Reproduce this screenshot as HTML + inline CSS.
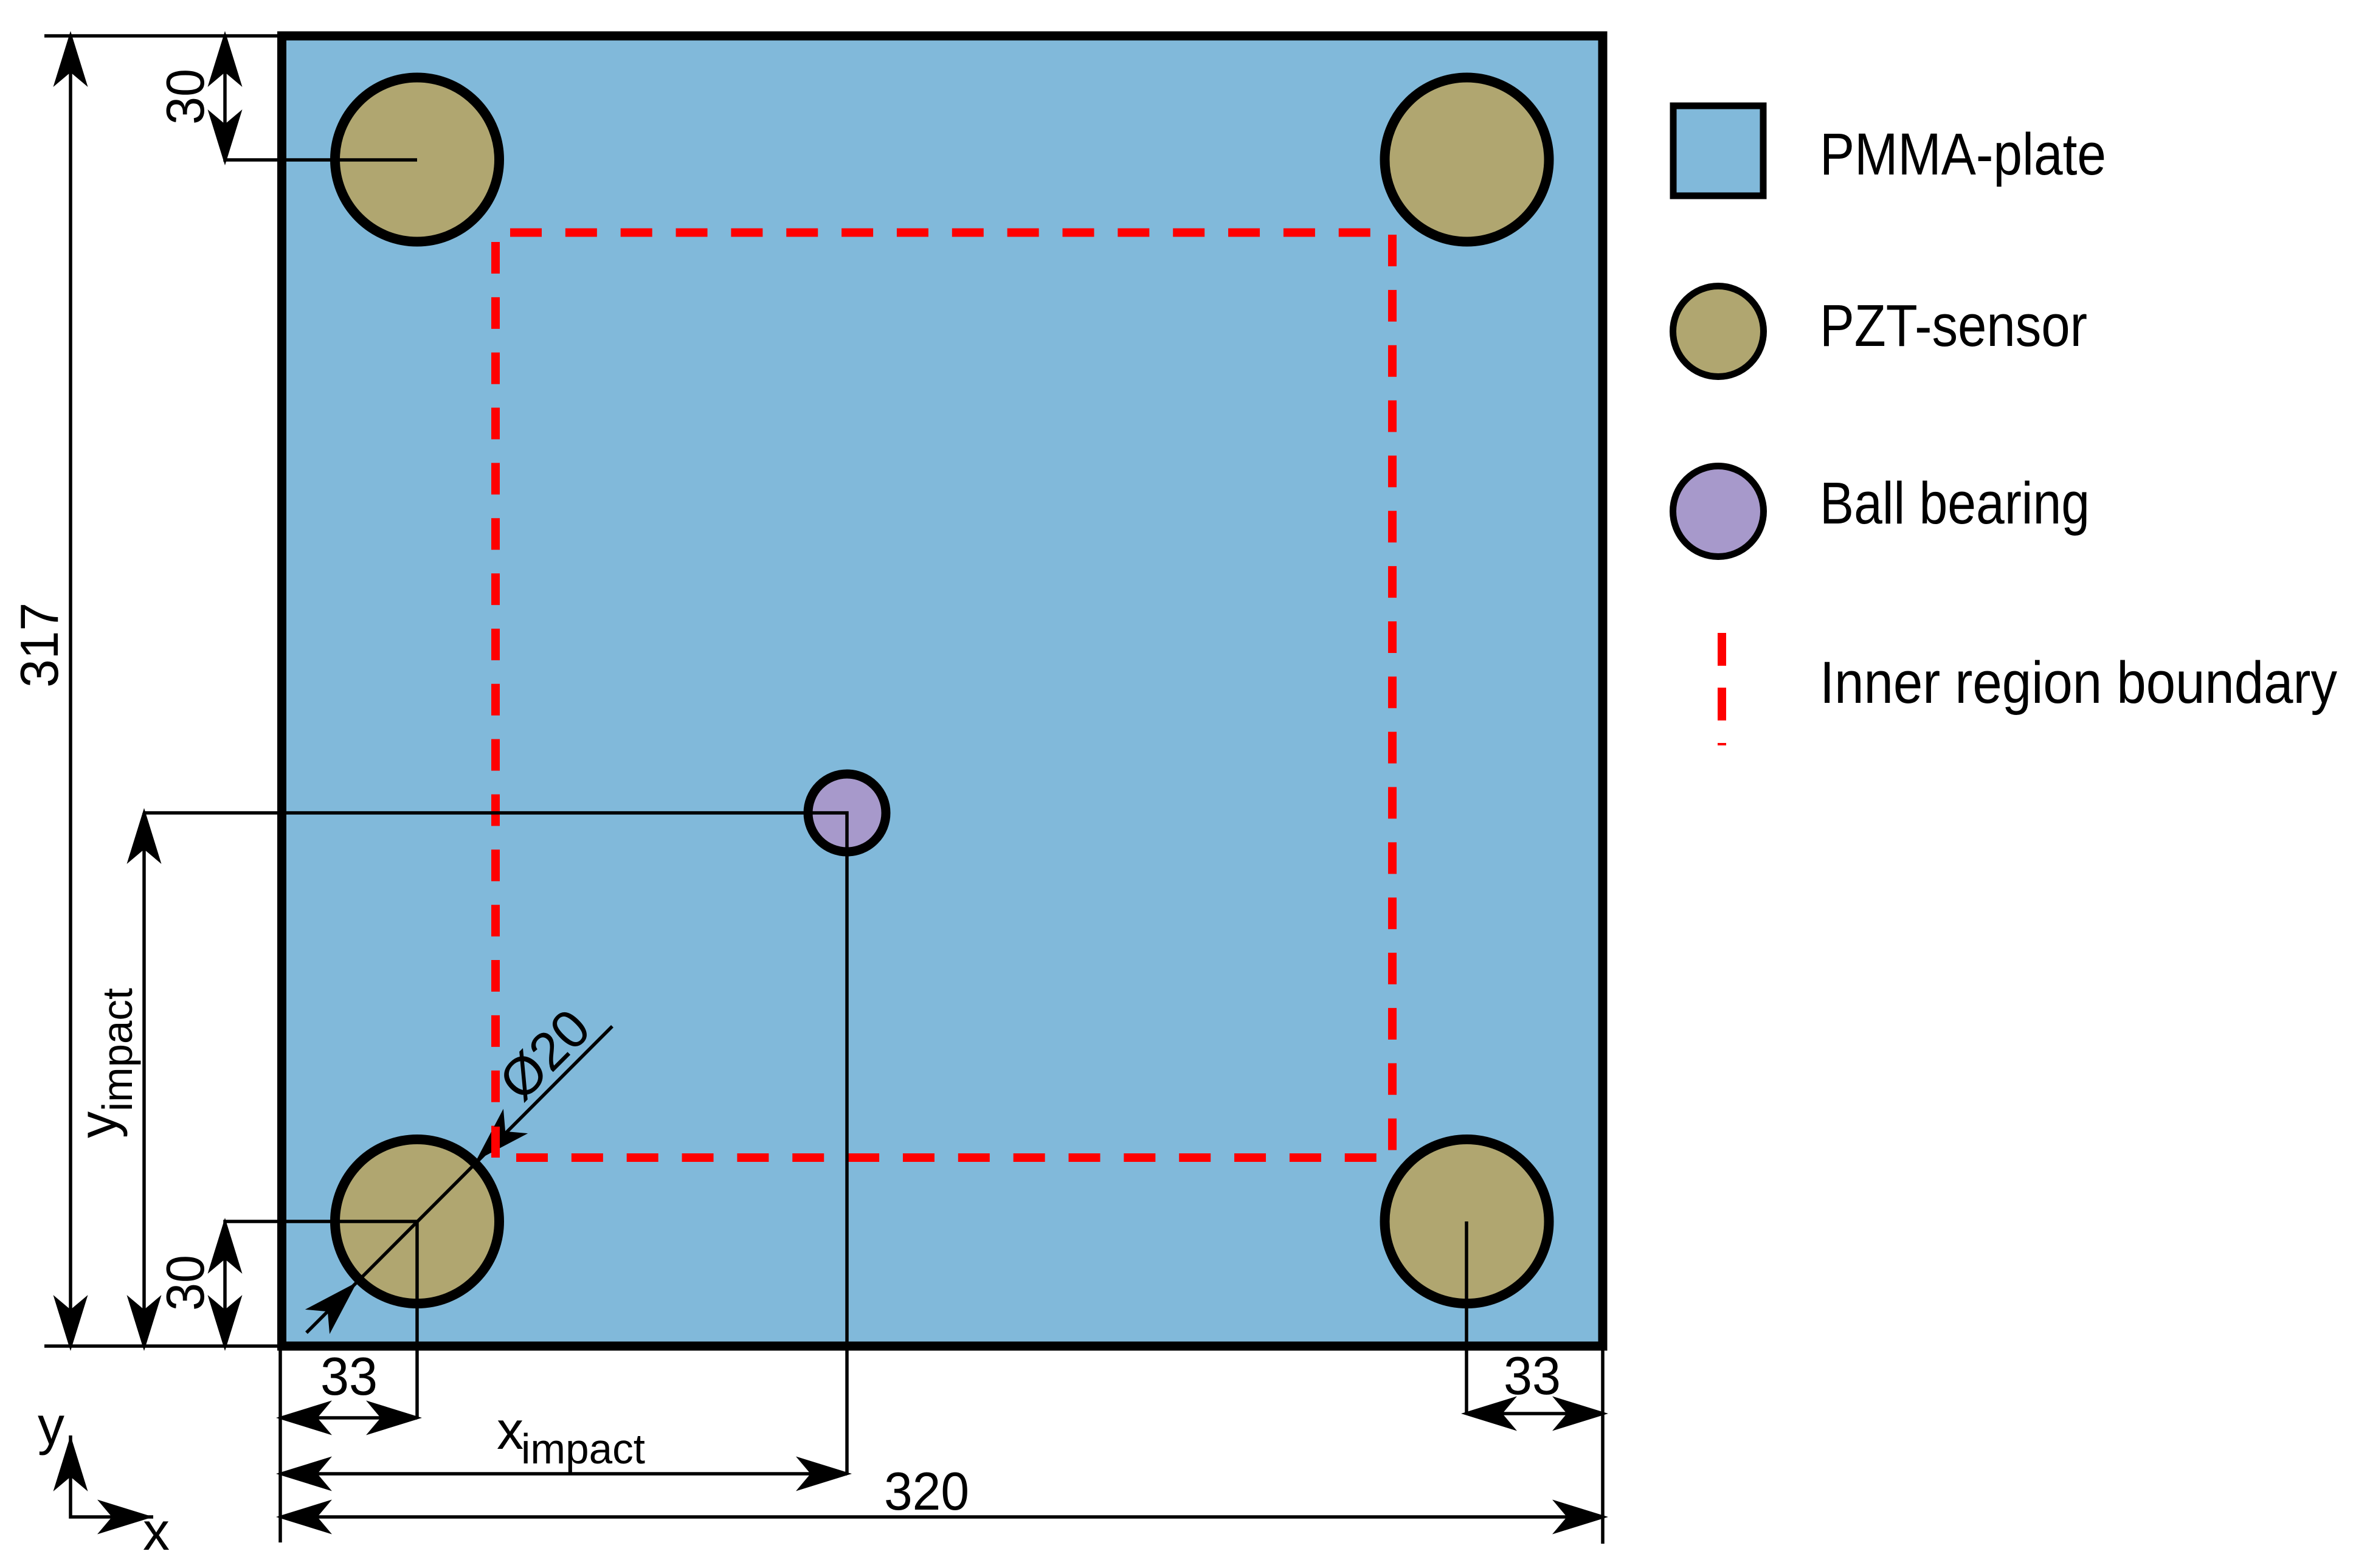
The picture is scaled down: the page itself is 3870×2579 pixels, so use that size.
<!DOCTYPE html>
<html>
<head>
<meta charset="utf-8">
<style>
html,body{margin:0;padding:0;background:#fff;width:3870px;height:2579px;overflow:hidden}
svg{display:block}
text{font-family:"Liberation Sans",sans-serif;fill:#000}
</style>
</head>
<body>
<svg width="3870" height="2579" viewBox="0 0 3870 2579" xmlns="http://www.w3.org/2000/svg">
<defs>
<path id="a" d="M0 0L-92 -28.5L-68 0L-92 28.5Z" fill="#000"/>
</defs>
<rect width="3870" height="2579" fill="#fff"/>

<!-- plate -->
<rect x="463.5" y="59" width="2172.5" height="2155" fill="#81b9da" stroke="#000" stroke-width="15"/>

<!-- inner boundary -->
<g stroke="#ff0000" stroke-width="14" fill="none" stroke-dasharray="52 38.85">
<path d="M839 382.5H2290"/>
<path d="M849 1904H2290"/>
<path d="M815 398V1905"/>
<path d="M2290 386V1895"/>
</g>

<!-- sensors -->
<g fill="#b0a670" stroke="#000" stroke-width="16">
<circle cx="686" cy="262.5" r="135"/>
<circle cx="2412.5" cy="262.5" r="135"/>
<circle cx="686" cy="2009" r="135"/>
<circle cx="2412.5" cy="2009" r="135"/>
</g>
<circle cx="1393" cy="1337" r="64" fill="#a799cb" stroke="#000" stroke-width="15"/>

<!-- dimension lines -->
<g stroke="#000" stroke-width="5.5" fill="none">
<path d="M73 59H463M73 2214H463"/>
<path d="M116 59V2214"/>
<path d="M237 1337H1393V2424"/>
<path d="M237 1337V2214"/>
<path d="M370 59V263H686"/>
<path d="M370 2214V2009H686V2332"/>
<path d="M461 2214V2537"/>
<path d="M2636 2214V2539"/>
<path d="M2412 2009V2325"/>
<path d="M461 2332H686"/>
<path d="M461 2424H1393"/>
<path d="M461 2495H2636"/>
<path d="M2412 2325H2636"/>
<path d="M1007 1688L504 2192"/>
<path d="M116 2361V2495H252"/>
</g>

<!-- arrowheads -->
<use href="#a" transform="translate(116 51) rotate(-90)"/>
<use href="#a" transform="translate(116 2222) rotate(90)"/>
<use href="#a" transform="translate(237 1329) rotate(-90)"/>
<use href="#a" transform="translate(237 2222) rotate(90)"/>
<use href="#a" transform="translate(370 51) rotate(-90)"/>
<use href="#a" transform="translate(370 272) rotate(90)"/>
<use href="#a" transform="translate(370 2003) rotate(-90)"/>
<use href="#a" transform="translate(370 2222) rotate(90)"/>
<use href="#a" transform="translate(454 2332) rotate(180)"/>
<use href="#a" transform="translate(694 2332)"/>
<use href="#a" transform="translate(454 2424) rotate(180)"/>
<use href="#a" transform="translate(1401 2424)"/>
<use href="#a" transform="translate(454 2495) rotate(180)"/>
<use href="#a" transform="translate(2645 2495)"/>
<use href="#a" transform="translate(2403 2325) rotate(180)"/>
<use href="#a" transform="translate(2645 2325)"/>
<use href="#a" transform="translate(783 1909) rotate(135)"/>
<use href="#a" transform="translate(587 2109) rotate(-45)"/>
<use href="#a" transform="translate(116 2361) rotate(-90)"/>
<use href="#a" transform="translate(252 2495)"/>
<rect x="808" y="1853" width="14" height="51" fill="#ff0000"/>

<!-- dimension labels -->
<g font-size="88">
<text transform="translate(95 1061) rotate(-90)" text-anchor="middle" textLength="140" lengthAdjust="spacingAndGlyphs">317</text>
<text transform="translate(335 159) rotate(-90)" text-anchor="middle" textLength="92" lengthAdjust="spacingAndGlyphs">30</text>
<text transform="translate(335 2110) rotate(-90)" text-anchor="middle" textLength="92" lengthAdjust="spacingAndGlyphs">30</text>
<text x="574" y="2294" text-anchor="middle" textLength="94" lengthAdjust="spacingAndGlyphs">33</text>
<text x="2520" y="2293" text-anchor="middle" textLength="94" lengthAdjust="spacingAndGlyphs">33</text>
<text x="1524" y="2483" text-anchor="middle" textLength="140" lengthAdjust="spacingAndGlyphs">320</text>
<text x="817" y="2383">x</text>
<text transform="translate(191 1872) rotate(-90)">y</text>
<text x="62" y="2375">y</text>
<text x="235" y="2549">x</text>
<text transform="translate(917 1756) rotate(-45)" text-anchor="middle">Ø20</text>
</g>
<text x="857" y="2407" font-size="70" textLength="204" lengthAdjust="spacingAndGlyphs">impact</text>
<text transform="translate(217 1828) rotate(-90)" font-size="70" textLength="203" lengthAdjust="spacingAndGlyphs">impact</text>

<!-- legend -->
<rect x="2752" y="174" width="148" height="148" fill="#81b9da" stroke="#000" stroke-width="11"/>
<circle cx="2826" cy="545" r="74.5" fill="#b0a670" stroke="#000" stroke-width="11"/>
<circle cx="2826" cy="841" r="74.5" fill="#a799cb" stroke="#000" stroke-width="11"/>
<g fill="#ff0000">
<rect x="2825" y="1041" width="14" height="54"/>
<rect x="2825" y="1131" width="14" height="54"/>
<rect x="2825" y="1222" width="14" height="4"/>
</g>
<g font-size="97">
<text x="2993" y="287" textLength="471" lengthAdjust="spacingAndGlyphs">PMMA-plate</text>
<text x="2993" y="569" textLength="440" lengthAdjust="spacingAndGlyphs">PZT-sensor</text>
<text x="2993" y="861" textLength="444" lengthAdjust="spacingAndGlyphs">Ball bearing</text>
<text x="2993" y="1156" textLength="851" lengthAdjust="spacingAndGlyphs">Inner region boundary</text>
</g>
</svg>
</body>
</html>
